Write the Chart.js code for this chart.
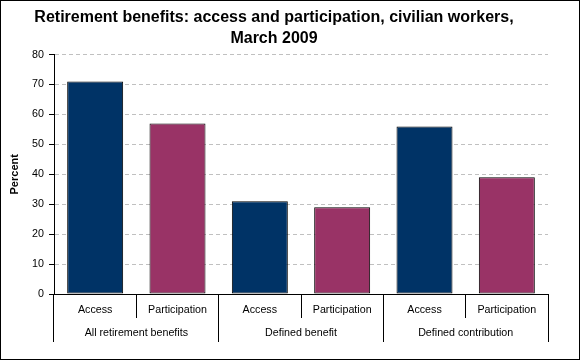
<!DOCTYPE html>
<html>
<head>
<meta charset="utf-8">
<script src="https://cdn.jsdelivr.net/npm/chart.js@4.4.1/dist/chart.umd.min.js"></script>
<style>
  body { margin: 0; background: #fff; }
  #quadro { position: relative; width: 580px; height: 360px; }
  #quadro canvas { position: absolute; left: 0; top: 0; }
  #moldura { position: absolute; left: 0; top: 0; width: 580px; height: 360px; border: 1px solid #000; box-sizing: border-box; pointer-events: none; }
</style>
</head>
<body>
<div id="quadro">
  <canvas id="grafico" width="580" height="360"></canvas>
  <div id="moldura"></div>
</div>
<script>
const categorias = ["Access", "Participation", "Access", "Participation", "Access", "Participation"];
const grupos = ["All retirement benefits", "Defined benefit", "Defined contribution"];
const valores = [71, 57, 31, 29, 56, 39];
const titulo = ["Retirement benefits: access and participation, civilian workers,", "March 2009"];
const tituloEixoY = "Percent";
const eixoYMin = 0;
const eixoYMax = 80;
const eixoYPasso = 10;

const COR_ACESSO = "#003366";
const COR_PARTICIPACAO = "#993366";
const FONTE = "'Liberation Sans', Arial, sans-serif";
const TAM_TICK = 10.7;

const coresBarras = categorias.map(c => c === "Access" ? COR_ACESSO : COR_PARTICIPACAO);

function alturaFixa(h) {
  return scale => { scale.height = h; };
}

new Chart(document.getElementById("grafico"), {
  type: "bar",
  data: {
    labels: categorias,
    datasets: [
      {
        data: valores,
        backgroundColor: coresBarras,
        borderColor: "#000",
        borderWidth: 1,
        borderSkipped: false,
        barPercentage: 0.68,
        categoryPercentage: 1
      }
    ]
  },
  options: {
    responsive: false,
    animation: false,
    layout: { padding: { left: 0, right: 32, top: 0, bottom: 18 } },
    plugins: {
      legend: { display: false },
      tooltip: { enabled: false },
      title: {
        display: true,
        text: titulo,
        color: "#000",
        font: { family: FONTE, size: 16, weight: "bold", lineHeight: 1.3 },
        padding: { top: 7, bottom: 6 }
      }
    },
    scales: {
      y: {
        min: eixoYMin,
        max: eixoYMax,
        ticks: { stepSize: eixoYPasso, color: "#000", font: { family: FONTE, size: TAM_TICK }, padding: 5 },
        grid: {
          color: c => c.tick && c.tick.value === 0 ? "rgba(0,0,0,0)" : "#c0c0c0",
          tickColor: "#000",
          tickLength: 5,
          tickBorderDash: [1, 0]
        },
        border: { color: "#000", dash: [4, 3] },
        title: {
          display: true,
          text: tituloEixoY,
          color: "#000",
          font: { family: FONTE, size: 11, weight: "bold" },
          padding: { top: 8, bottom: 0 }
        },
        afterFit: scale => { scale.width = 54; }
      },
      x: {
        position: "bottom",
        offset: true,
        grid: { offset: true, drawOnChartArea: false, color: "#000", tickLength: 24 },
        border: { color: "#000" },
        ticks: { color: "#000", font: { family: FONTE, size: TAM_TICK }, padding: -14, autoSkip: false, maxRotation: 0 },
        afterFit: alturaFixa(24)
      },
      x2: {
        type: "category",
        labels: grupos,
        position: "bottom",
        offset: true,
        grid: { offset: true, drawOnChartArea: false, color: "#000", tickLength: 24 },
        border: { display: false },
        ticks: { color: "#000", font: { family: FONTE, size: TAM_TICK }, padding: -15, autoSkip: false, maxRotation: 0 },
        afterFit: alturaFixa(24)
      }
    }
  }
});
</script>
</body>
</html>
